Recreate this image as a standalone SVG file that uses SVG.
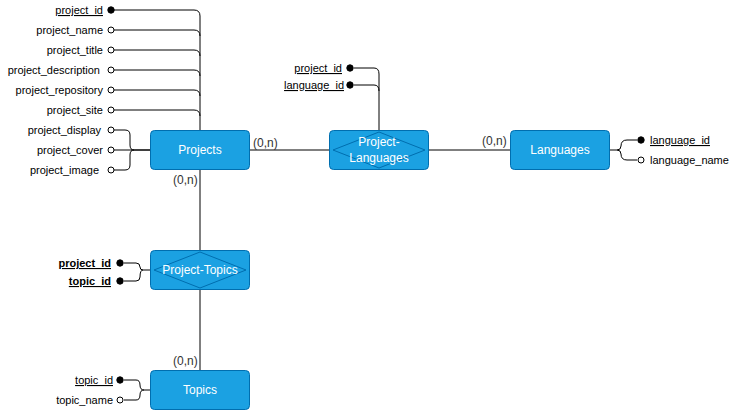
<svg xmlns="http://www.w3.org/2000/svg" width="742" height="412" viewBox="0 0 742 412">
<style>
.ent{fill:#1ba1e2;stroke:#006eaf;stroke-width:1}
.dia{fill:#1ba1e2;stroke:#006eaf;stroke-width:1}
.nt{font-family:"Liberation Sans",Arial,sans-serif;font-size:12px;fill:#ffffff;text-anchor:middle}
.at{font-family:"Liberation Sans",Arial,sans-serif;font-size:11px;fill:#000000}
.pk{text-decoration:underline}
.b{font-weight:bold}
.r{text-anchor:end}
.card{font-family:"Liberation Sans",Arial,sans-serif;font-size:12px;fill:#333333}
.ln{fill:none;stroke:#000000;stroke-width:1}
.fc{fill:#000000;stroke:#000000;stroke-width:1}
.oc{fill:#ffffff;stroke:#000000;stroke-width:1}
</style>
<g id="connectors">
  <path class="ln" d="M250 150 H329"/>
  <path class="ln" d="M429 150 H510"/>
  <path class="ln" d="M200 170 V250"/>
  <path class="ln" d="M200 290 V370"/>
  <!-- Projects attributes -->
  <path class="ln" d="M114 10 H194 Q200 10 200 16 V130"/>
  <path class="ln" d="M114 30 H194 Q200 30 200 36"/>
  <path class="ln" d="M114 50 H194 Q200 50 200 56"/>
  <path class="ln" d="M114 70 H194 Q200 70 200 76"/>
  <path class="ln" d="M114 90 H194 Q200 90 200 96"/>
  <path class="ln" d="M114 110 H194 Q200 110 200 116"/>
  <path class="ln" d="M114 130 H125 Q130 130 130 135 V145 Q130 150 134 150 H150"/>
  <path class="ln" d="M114 150 H150"/>
  <path class="ln" d="M114 170 H125 Q130 170 130 165 V155 Q130 150 134 150"/>
  <!-- Project-Languages attributes -->
  <path class="ln" d="M354 68 H374 Q379 68 379 74 V130"/>
  <path class="ln" d="M354 85 H374 Q379 85 379 91"/>
  <!-- Languages attributes -->
  <path class="ln" d="M610 150 H617 Q621 150 621 146 Q621 140 627 140 H637"/>
  <path class="ln" d="M617 150 Q621 150 621 154 Q621 160 627 160 H637"/>
  <!-- Project-Topics attributes -->
  <path class="ln" d="M124 263 H136 Q140 263 140 267 Q140 270 143 270 H150"/>
  <path class="ln" d="M124 281 H136 Q140 281 140 277 Q140 270 143 270"/>
  <!-- Topics attributes -->
  <path class="ln" d="M124 380 H136 Q140 380 140 385 Q140 390 144 390 H150"/>
  <path class="ln" d="M124 400 H136 Q140 400 140 395 Q140 390 144 390"/>
  <!-- cardinalities -->
  <text class="card" x="253" y="147">(0,n)</text>
  <text class="card" x="173" y="184">(0,n)</text>
  <text class="card" x="482" y="145">(0,n)</text>
  <text class="card" x="173" y="365">(0,n)</text>
</g>
<g id="projects">
  <rect class="ent" x="150.5" y="130.5" width="99" height="39" rx="4"/>
  <text class="nt" x="200" y="154">Projects</text>
  <circle class="fc" cx="111" cy="10" r="3.2"/>
  <circle class="oc" cx="111" cy="30" r="3"/>
  <circle class="oc" cx="111" cy="50" r="3"/>
  <circle class="oc" cx="111" cy="70" r="3"/>
  <circle class="oc" cx="111" cy="90" r="3"/>
  <circle class="oc" cx="111" cy="110" r="3"/>
  <circle class="oc" cx="111" cy="130" r="3"/>
  <circle class="oc" cx="111" cy="150" r="3"/>
  <circle class="oc" cx="111" cy="170" r="3"/>
  <text class="at r pk" x="103" y="14">project_id</text>
  <text class="at r" x="103" y="34">project_name</text>
  <text class="at r" x="103" y="54">project_title</text>
  <text class="at r" x="100" y="74">project_description</text>
  <text class="at r" x="103" y="94">project_repository</text>
  <text class="at r" x="103" y="114">project_site</text>
  <text class="at r" x="101" y="134">project_display</text>
  <text class="at r" x="103" y="154">project_cover</text>
  <text class="at r" x="99" y="174">project_image</text>
</g>
<g id="project-languages">
  <rect class="ent" x="329.5" y="130.5" width="99" height="39" rx="4"/>
  <polygon class="dia" points="333,150 379,132 425,150 379,168"/>
  <text class="nt" x="379" y="146">Project-</text>
  <text class="nt" x="379" y="162">Languages</text>
  <circle class="fc" cx="350" cy="68" r="3.2"/>
  <circle class="fc" cx="350" cy="85" r="3.2"/>
  <text class="at r pk" x="342" y="72">project_id</text>
  <text class="at r pk" x="344" y="89">language_id</text>
</g>
<g id="languages">
  <rect class="ent" x="510.5" y="130.5" width="99" height="39" rx="4"/>
  <text class="nt" x="560" y="154">Languages</text>
  <circle class="fc" cx="641" cy="140" r="3.2"/>
  <circle class="oc" cx="641" cy="160" r="3"/>
  <text class="at pk" x="650" y="144">language_id</text>
  <text class="at" x="650" y="164">language_name</text>
</g>
<g id="project-topics">
  <rect class="ent" x="150.5" y="250.5" width="99" height="39" rx="4"/>
  <polygon class="dia" points="154,270 200,252 246,270 200,288"/>
  <text class="nt" x="200" y="274">Project-Topics</text>
  <circle class="fc" cx="120" cy="263" r="3.2"/>
  <circle class="fc" cx="120" cy="281" r="3.2"/>
  <text class="at r pk b" x="111" y="267">project_id</text>
  <text class="at r pk b" x="111" y="285">topic_id</text>
</g>
<g id="topics">
  <rect class="ent" x="150.5" y="370.5" width="99" height="39" rx="4"/>
  <text class="nt" x="200" y="394">Topics</text>
  <circle class="fc" cx="120" cy="380" r="3.2"/>
  <circle class="oc" cx="120" cy="400" r="3"/>
  <text class="at r pk" x="113" y="384">topic_id</text>
  <text class="at r" x="113" y="404">topic_name</text>
</g>
</svg>
